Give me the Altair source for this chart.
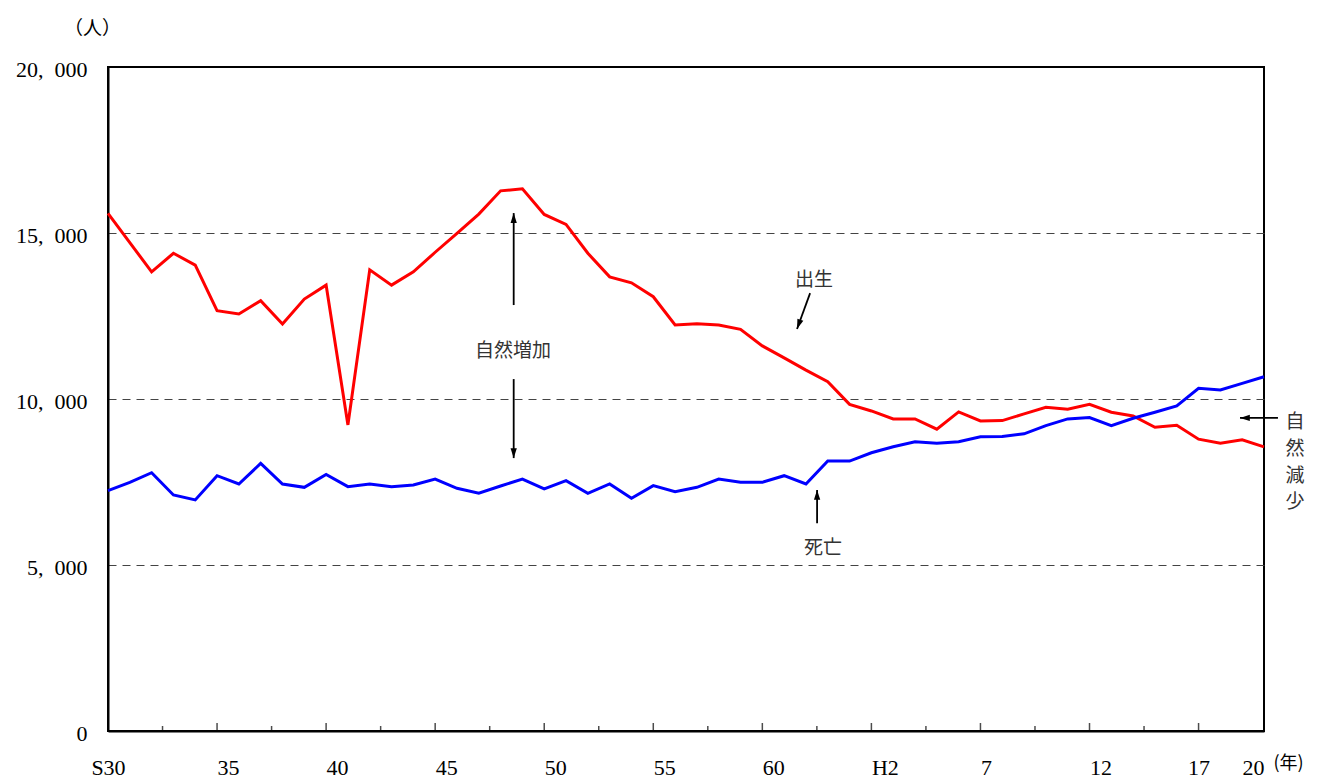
import altair as alt
import pandas as pd

# ---------------- data ----------------
years = list(range(1955, 2009))
births = [15590, 14710, 13830, 14390, 14030, 12660, 12560, 12960, 12260, 13010,
          13430, 9220, 13890, 13430, 13830, 14420, 14990, 15570, 16270, 16330,
          15560, 15260, 14390, 13680, 13500, 13080, 12230, 12270, 12230, 12100,
          11600, 11240, 10870, 10520, 9840, 9640, 9400, 9400, 9090, 9610,
          9340, 9350, 9550, 9750, 9690, 9840, 9600, 9490, 9150, 9210,
          8790, 8670, 8770, 8560]
deaths = [7240, 7490, 7780, 7110, 6960, 7690, 7440, 8060, 7440, 7340,
          7730, 7360, 7440, 7360, 7410, 7590, 7310, 7160, 7380, 7590,
          7290, 7540, 7160, 7440, 7010, 7390, 7210, 7340, 7590, 7490,
          7490, 7690, 7440, 8130, 8130, 8380, 8560, 8710, 8670, 8710,
          8860, 8870, 8950, 9200, 9400, 9440, 9200, 9420, 9600, 9790,
          10320, 10270, 10470, 10670]
series_names = ["出生", "死亡"]

x_label_years = [1955, 1960, 1965, 1970, 1975, 1980, 1985, 1990, 1995, 2000, 2005, 2008]
x_label_texts = ["S30", "35", "40", "45", "50", "55", "60", "H2", "7", "12", "17", "20"]
x_major_ticks = [1960, 1965, 1970, 1975, 1980, 1985, 1990, 1995, 2000, 2005]
x_minor_ticks = [1957.5, 1962.5, 1967.5, 1972.5, 1977.5, 1982.5, 1987.5, 1992.5, 1997.5, 2002.5]
y_tick_values = [0, 5000, 10000, 15000, 20000]

# annotation texts (positions in data units)
ann_texts = ["自然増加", "出生", "死亡"]
ann_text_years = [1973.57, 1987.37, 1987.78]
ann_text_values = [11450, 13580, 5510]
vert_text = "自\n然\n減\n少"
vert_text_year = 2009.42
vert_text_value = 9300

# arrows: tail -> tip (data units)
arrow_tail_years = [1973.6, 1973.6, 1987.19, 1987.51, 2008.64]
arrow_tail_values = [12830, 10600, 13190, 6260, 9430]
arrow_tip_years = [1973.6, 1973.6, 1986.59, 1987.51, 2006.9]
arrow_tip_values = [15600, 8220, 12110, 7260, 9430]
arrow_angles = [0, 180, 200, 0, 270]

# ---------------- frames ----------------
df = pd.DataFrame({
    "year": years * 2,
    "value": births + deaths,
    "series": [series_names[0]] * len(years) + [series_names[1]] * len(years),
})

x_scale = alt.Scale(domain=[1955, 2008], nice=False, zero=False)
y_scale = alt.Scale(domain=[0, 20000], nice=False)

label_map = "{" + ",".join(f"'{y}':'{t}'" for y, t in zip(x_label_years, x_label_texts)) + "}"

NUM_FONT = "Liberation Serif"
JP_FONT = "Noto Sans CJK JP"

x_axis = alt.Axis(
    values=x_label_years,
    labelExpr=f"{label_map}[datum.value]",
    ticks=False, grid=False,
    domain=True, domainColor="black", domainWidth=2,
    labelFont=NUM_FONT, labelFontSize=22, labelColor="black",
    labelBaseline="top", labelPadding=26,
    labelAlign={"condition": [{"test": "datum.value == 1955", "value": "center"},
                              {"test": "datum.value == 2005", "value": "center"},
                              {"test": "datum.value == 2008", "value": "right"}],
                "value": "left"},
    labelOverlap=False, labelFlush=False, labelBound=False,
    title="(年)", titleFont=JP_FONT, titleFontSize=18, titleFontWeight="normal",
    titleColor="black", titleX=1165, titleY=32, titleAlign="left",
    titleBaseline="middle", titleAnchor="start",
)

y_axis = alt.Axis(
    values=y_tick_values,
    labelExpr="replace(format(datum.value, ','), ',', ',\u2002')",
    ticks=False,
    grid=True, gridDash=[8, 6], gridColor="#444444", gridWidth=1,
    gridOpacity={"condition": {"test": "datum.value == 0 || datum.value == 20000", "value": 0},
                 "value": 1},
    domain=True, domainColor="black", domainWidth=2,
    labelFont=NUM_FONT, labelFontSize=22, labelColor="black",
    labelPadding=21, labelOffset=2,
    title="（人）", titleFont=JP_FONT, titleFontSize=19, titleFontWeight="normal",
    titleColor="black", titleAngle=0, titleX=-16, titleY=-39,
    titleAlign="center", titleBaseline="middle", titleAnchor="start",
)


def X(field):
    return alt.X(field, type="quantitative", scale=x_scale, axis=x_axis)


def Y(field):
    return alt.Y(field, type="quantitative", scale=y_scale, axis=y_axis)


lines = alt.Chart(df).mark_line(strokeWidth=3).encode(
    x=X("year"),
    y=Y("value"),
    color=alt.Color("series:N",
                    scale=alt.Scale(domain=series_names, range=["#ff0000", "#0000ff"]),
                    legend=None),
)

major = alt.Chart(pd.DataFrame({"year": x_major_ticks})).mark_tick(
    orient="vertical", size=8, thickness=1.5, yOffset=-4, color="black"
).encode(x=X("year"), y=alt.datum(0, scale=y_scale, axis=y_axis))

minor = alt.Chart(pd.DataFrame({"year": x_minor_ticks})).mark_tick(
    orient="vertical", size=5, thickness=1.5, yOffset=-2.5, color="black"
).encode(x=X("year"), y=alt.datum(0, scale=y_scale, axis=y_axis))

texts = alt.Chart(pd.DataFrame({"t": ann_texts, "x": ann_text_years, "y": ann_text_values})).mark_text(
    font=JP_FONT, fontSize=19, color="#333333", align="center", baseline="middle"
).encode(x=X("x"), y=Y("y"), text="t:N")

vtext = alt.Chart(pd.DataFrame({"t": [vert_text], "x": [vert_text_year], "y": [vert_text_value]})).mark_text(
    font=JP_FONT, fontSize=19, color="#333333", align="center", baseline="middle",
    lineBreak="\n", lineHeight=26.7
).encode(x=X("x"), y=Y("y"), text="t:N")

head_path = "M0,0L-0.45,1.4L0.45,1.4Z"
arrow_layers = []
for tx, ty, hx, hy, ang in zip(arrow_tail_years, arrow_tail_values,
                               arrow_tip_years, arrow_tip_values, arrow_angles):
    adf = pd.DataFrame({"x": [tx], "y": [ty], "x2": [hx], "y2": [hy]})
    shaft = alt.Chart(adf).mark_rule(color="black", strokeWidth=1.8).encode(
        x=X("x"), y=Y("y"), x2="x2:Q", y2="y2:Q")
    head = alt.Chart(adf).mark_point(
        shape=head_path, size=196, filled=True, color="black", opacity=1,
        strokeWidth=0, angle=ang
    ).encode(x=X("x2"), y=Y("y2"))
    arrow_layers += [shaft, head]

chart = alt.layer(lines, major, minor, texts, vtext, *arrow_layers).properties(
    width=1156, height=664,
    autosize=alt.AutoSizeParams(type="none"),
    padding={"left": 100, "top": 59, "right": 52, "bottom": 47},
).configure_view(stroke="black", strokeWidth=2)

chart.save("out.html", embed_options={"renderer": "svg", "actions": False})
